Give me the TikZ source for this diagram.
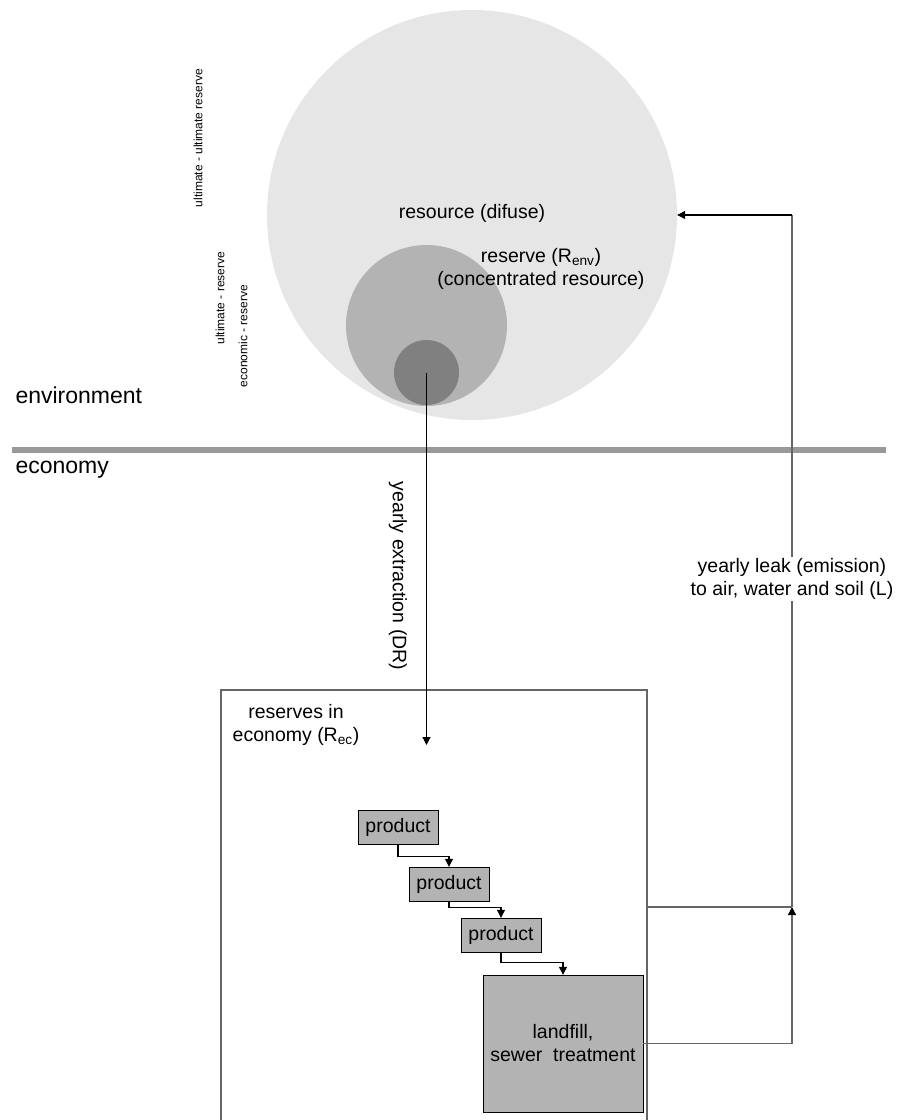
\documentclass[tikz,border=0pt]{standalone}
\usepackage{fontspec}
\setmainfont{Liberation Sans}
\usepackage{xcolor}
\usetikzlibrary{arrows.meta}
\definecolor{pale}{HTML}{E6E6E6}
\definecolor{mid}{HTML}{B3B3B3}
\definecolor{deep}{HTML}{808080}
\definecolor{barcol}{HTML}{999999}
\definecolor{edge}{HTML}{666666}

\begin{document}
\begin{tikzpicture}[
    x=1pt, y=-1pt,
    font=\fontsize{19.5}{23}\selectfont,
    every node/.style={align=center},
    blob/.style={circle, draw=none, inner sep=0pt},
    tiny/.style={font=\fontsize{12}{14}\selectfont, rotate=90},
    side/.style={anchor=west, font=\fontsize{23}{27}\selectfont},
    prodbox/.style={
        rectangle,
        draw=black,
        fill=mid,
        minimum width=80pt,
        minimum height=34pt,
        inner sep=0pt
    },
    line/.style={draw, line width=1.1pt, -{Triangle[length=8pt,width=8pt]}},
    gline/.style={draw=edge, line width=1.4pt},
    tip/.style={-{Triangle[length=8pt,width=8pt,color=black]}},
]
\useasboundingbox (0,0) rectangle (909,1120);

% Environment circles
\node[blob, fill=pale, minimum size=410pt] (res)  at (472,215) {};
\node[blob, fill=mid,  minimum size=161pt] (resv) at (426.5,325.5) {};
\node[blob, fill=deep, minimum size=65pt]  (core) at (426.5,372.5) {};

\node (reslbl)  at (472,213) {resource (difuse)};
\node (resvlbl) at (541,269) {reserve (R\textsubscript{env})\\(concentrated resource)};

% Side labels
\node[tiny] (uur) at (198,138) {ultimate - ultimate reserve};
\node[tiny] (ur)  at (220,298) {ultimate - reserve};
\node[tiny] (er)  at (243,336) {economic - reserve};

\node[side] (env) at (12,395) {environment};
\node[side] (eco) at (12,470) {economy};

% Boundary
\draw[barcol, line width=6pt] (12,450) -- (886,450);

% Economy
\node[draw=edge, line width=1.4pt, minimum width=426pt, minimum height=434pt, inner sep=0pt] (econ) at (434,907) {};
\node (ecolbl) at (296,725) {reserves in\\economy (R\textsubscript{ec})};

\node[prodbox] (p1) at (398,827) {product};
\node[prodbox] (p2) at (449,884) {product};
\node[prodbox] (p3) at (501,935) {product};
\node[prodbox, minimum width=160pt, minimum height=137pt] (land) at (563,1043.5) {landfill,\\sewer\ \ treatment};

% Extraction
\coordinate (drop) at (426.5,745);
\draw[line] (core.center) -- (drop);
\node[rotate=-90] (extr) at (398,576) {yearly extraction (DR)};

% Product chain
\draw[line] (p1.south) -- ++(0,12) -| (p2.north);
\draw[line] (p2.south) -- ++(0,6) -| (p3.north);
\draw[line] (p3.south) -- ++(0,10) -| (land.north);

% Leak back to environment
\coordinate (j) at (792,907);
\draw[gline] (econ.east) -- (j);
\draw[gline, tip] (land.east) -| (j);
\draw[gline] (j) -- (792,215);
\draw[line] (792,215) -- (res.east);
\node[fill=white, inner sep=1pt] (leak) at (792,579) {yearly leak (emission)\\to air, water and soil (L)};

\end{tikzpicture}
\end{document}
